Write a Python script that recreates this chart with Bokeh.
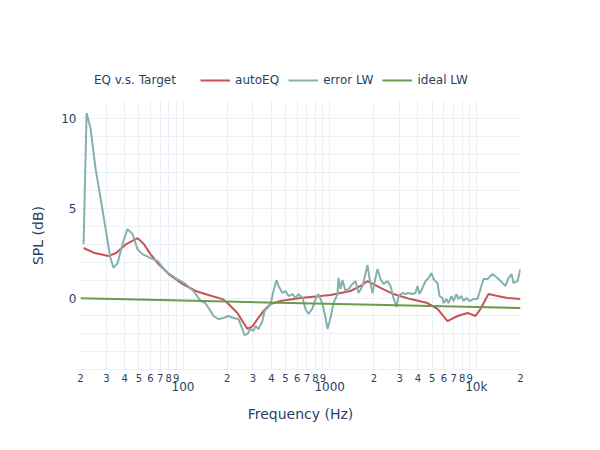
from bokeh.plotting import figure
from bokeh.models import LogAxis, FixedTicker, Legend, LegendItem, Range1d
from bokeh.layouts import column
from bokeh.embed import file_html
from bokeh.resources import INLINE

# ---------------- data ----------------
freq_auto = [21, 25, 31, 35, 41, 49, 54, 60, 68, 80, 99, 122, 149, 186, 201, 235, 259, 275,
             298, 322, 354, 395, 462, 632, 1013, 1387, 1622, 1811, 2220, 2724, 3557, 4644,
             5433, 6357, 7438, 8702, 9864, 10672, 12100, 13934, 16306, 20000]
spl_auto = [2.78, 2.5, 2.33, 2.5, 3.0, 3.33, 3.0, 2.44, 1.89, 1.33, 0.78, 0.39, 0.17, -0.06,
            -0.28, -0.83, -1.39, -1.72, -1.56, -1.17, -0.72, -0.33, -0.17, 0.0, 0.17, 0.39,
            0.67, 0.94, 0.56, 0.22, -0.06, -0.28, -0.61, -1.28, -1.0, -0.83, -1.0, -0.61,
            0.22, 0.11, 0.0, -0.06]

freq_err = [21, 22, 23.4, 25.3, 27.4, 29.6, 32, 33.6, 35.8, 38.7, 41.8, 45.3, 48.9, 52.9, 60,
            67, 76, 89, 104, 118, 132, 142, 154, 161, 175, 189, 204, 221, 239, 254, 262, 275,
            288, 302, 312, 327, 348, 359, 377, 395, 414, 434, 448, 477, 500, 524, 558, 585,
            613, 653, 684, 717, 764, 800, 839, 893, 937, 966, 1013, 1062, 1130, 1148, 1185,
            1223, 1282, 1344, 1431, 1500, 1572, 1674, 1727, 1811, 1868, 1958, 2052, 2118,
            2220, 2328, 2479, 2598, 2724, 2855, 2946, 3137, 3288, 3447, 3670, 3846, 3970,
            4097, 4295, 4500, 4718, 4946, 5103, 5433, 5608, 5878, 5970, 6258, 6456, 6770,
            6986, 7322, 7556, 7920, 8174, 8568, 8980, 9562, 10182, 10672, 11186, 11914,
            12884, 13934, 15068, 15800, 16558, 17366, 17920, 19078, 20000]
spl_err = [3.0, 10.28, 9.44, 7.22, 5.56, 3.89, 2.22, 1.67, 1.94, 3.0, 3.83, 3.56, 2.72, 2.44,
           2.22, 2.06, 1.5, 1.11, 0.78, 0.39, -0.17, -0.28, -0.72, -1.0, -1.17, -1.11, -1.0,
           -1.11, -1.17, -1.72, -2.06, -2.0, -1.72, -1.83, -1.56, -1.72, -1.28, -0.72, -0.56,
           -0.33, 0.39, 1.0, 0.67, 0.28, 0.39, 0.11, 0.22, 0.0, 0.22, 0.0, -0.61, -0.89,
           -0.56, -0.06, 0.22, -0.33, -1.11, -1.72, -1.11, -0.28, 0.22, 1.11, 0.5, 1.0, 0.39,
           0.5, 0.78, 0.94, 0.28, 0.67, 1.11, 1.83, 1.11, 0.28, 1.11, 1.61, 1.06, 0.78, 0.94,
           0.67, 0.0, -0.5, 0.11, 0.28, 0.22, 0.28, 0.22, 0.28, 0.67, 0.22, 0.56, 0.94, 1.11,
           1.39, 1.06, 0.83, 0.11, 0.0, -0.28, -0.06, -0.28, 0.11, -0.17, 0.22, -0.06, 0.11,
           -0.17, 0.0, -0.17, -0.06, -0.06, 0.5, 1.06, 1.06, 1.33, 1.11, 0.83, 0.67, 1.11,
           1.33, 0.83, 0.94, 1.61]

freq_ideal = [20, 200, 2000, 20000]
spl_ideal = [-0.02, -0.2, -0.37, -0.55]

series_names = ["autoEQ", "error LW", "ideal LW"]
series_colors = ["#c65352", "#84b1ab", "#6b9b4b"]
legend_title = "EQ v.s. Target"

y_ticks = [0, 5, 10]
y_grid = list(range(-4, 11))
minor_ticks = [20, 30, 40, 50, 60, 70, 80, 90,
               200, 300, 400, 500, 600, 700, 800, 900,
               2000, 3000, 4000, 5000, 6000, 7000, 8000, 9000, 20000]
minor_labels = ["2", "3", "4", "5", "6", "7", "8", "9",
                "2", "3", "4", "5", "6", "7", "8", "9",
                "2", "3", "4", "5", "6", "7", "8", "9", "2"]
major_ticks = [100, 1000, 10000]
major_labels = ["100", "1000", "10k"]

FONT = "DejaVu Sans"
TXT = "#2a3f5f"
GRID = "#EBF0F8"

series = [(freq_auto, spl_auto), (freq_err, spl_err), (freq_ideal, spl_ideal)]

# ---------------- main plot ----------------
p = figure(width=584, height=334, x_axis_type="log",
           x_range=Range1d(20, 20000), y_range=Range1d(-4.03, 10.98),
           output_backend="svg", toolbar_location=None,
           min_border_left=80, min_border_right=64, min_border_top=0, min_border_bottom=64)
p.outline_line_color = None
p.background_fill_color = "white"

for (fx, fy), c in zip(series, series_colors):
    p.line(fx, fy, line_color=c, line_width=2)

p.xgrid.ticker = FixedTicker(ticks=sorted(minor_ticks + major_ticks))
p.ygrid.ticker = FixedTicker(ticks=y_grid)
for g in (p.xgrid, p.ygrid):
    g.grid_line_color = GRID
    g.grid_line_width = 1

def style_axis(ax, size):
    ax.axis_line_color = None
    ax.major_tick_line_color = None
    ax.minor_tick_line_color = None
    ax.major_tick_out = 0
    ax.minor_tick_out = 0
    ax.major_tick_in = 0
    ax.minor_tick_in = 0
    ax.major_label_text_font = FONT
    ax.major_label_text_color = TXT
    ax.major_label_text_font_size = size
    ax.axis_label_text_font = FONT
    ax.axis_label_text_color = TXT
    ax.axis_label_text_font_size = "14px"
    ax.axis_label_text_font_style = "normal"

yax = p.yaxis[0]
yax.ticker = FixedTicker(ticks=y_ticks)
style_axis(yax, "12px")
yax.major_label_standoff = 4
yax.axis_label = "SPL (dB)"
yax.axis_label_standoff = 12

xax = p.xaxis[0]
xax.ticker = FixedTicker(ticks=minor_ticks)
xax.major_label_overrides = {t: l for t, l in zip(minor_ticks, minor_labels)}
style_axis(xax, "10px")
xax.major_label_standoff = 3

xax2 = LogAxis(ticker=FixedTicker(ticks=major_ticks),
               major_label_overrides={t: l for t, l in zip(major_ticks, major_labels)})
style_axis(xax2, "12px")
xax2.major_label_standoff = -5
xax2.axis_label = "Frequency (Hz)"
xax2.axis_label_standoff = 9
p.add_layout(xax2, "below")

# ---------------- legend strip above the plot ----------------
top = figure(width=584, height=100, x_range=Range1d(0, 1), y_range=Range1d(0, 1),
             output_backend="svg", toolbar_location=None, min_border=0,
             x_axis_location=None, y_axis_location=None)
top.outline_line_color = None
top.grid.visible = False

# legend renderers (their data lies outside this strip's range, so only the legend shows)
t0 = top.line(freq_ideal, spl_ideal, line_alpha=0)
trs = [top.line(fx, fy, line_color=c, line_width=2) for (fx, fy), c in zip(series, series_colors)]

items = [LegendItem(label=legend_title + "\u00a0\u00a0\u00a0\u00a0", renderers=[t0])]
items += [LegendItem(label=n, renderers=[r]) for n, r in zip(series_names, trs)]
legend = Legend(items=items, orientation="horizontal", location=(-21, 13),
                glyph_width=30, glyph_height=14, label_height=14,
                label_standoff=5, spacing=9, padding=0, margin=0,
                label_text_font=FONT, label_text_font_size="12px",
                label_text_color=TXT, label_text_baseline="middle",
                border_line_color=None, background_fill_alpha=0)
top.add_layout(legend, "center")

layout = column(top, p, spacing=0)
open("out.html", "w").write(file_html(layout, INLINE))
